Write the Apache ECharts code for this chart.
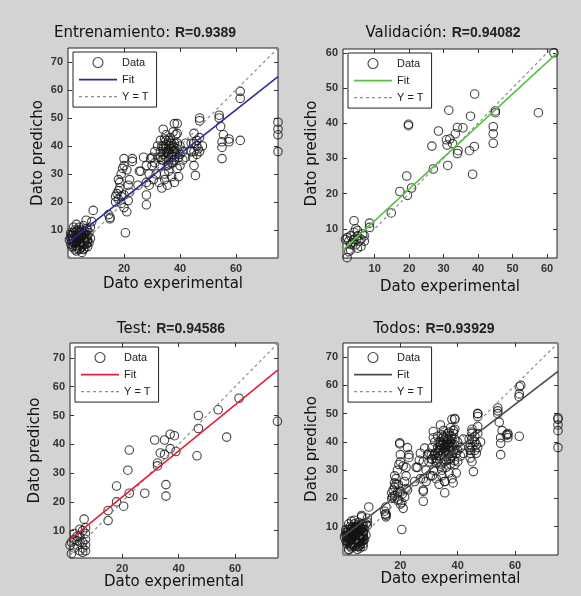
<!DOCTYPE html>
<html>
<head>
<meta charset="utf-8">
<script src="https://cdn.jsdelivr.net/npm/echarts@6/dist/echarts.min.js"></script>
<style>
  html, body { margin: 0; padding: 0; background: #d3d3d3; }
  #main { width: 581px; height: 596px; }
</style>
</head>
<body>
<div id="main"></div>
<script>
// datos: [target, salida]
var panelNames = ['Entrenamiento:', 'Validación:', 'Test:', 'Todos:']
var rValues = ['R=0.9389', 'R=0.94082', 'R=0.94586', 'R=0.93929']
var fitSlope = [0.79, 0.9, 0.8, 0.78]
var fitIntercept = [5.5, 3.3, 5.7, 6.5]
var xRange = [[0, 75], [0.8, 62.9], [1.5, 75.2], [0, 75]]
var yRange = [[0, 75], [1.7, 61.1], [0.5, 75.2], [0, 75]]
var xTicks = [[20, 40, 60], [10, 20, 30, 40, 50, 60], [20, 40, 60], [20, 40, 60]]
var yTicks = [
    [10, 20, 30, 40, 50, 60, 70],
    [10, 20, 30, 40, 50, 60],
    [10, 20, 30, 40, 50, 60, 70],
    [10, 20, 30, 40, 50, 60, 70]
]

var trainData = [
    [0.5, 6.5], [1, 5], [1, 7], [1, 9], [1.5, 6], [1.5, 8], [2, 4], [2, 5.5], [2, 7], [2, 9], [2, 11],
    [2.5, 3], [2.5, 6], [2.5, 8], [3, 2.5], [3, 4.5], [3, 6], [3, 7.5], [3, 9.5], [3, 12],
    [3.5, 5], [3.5, 7], [3.5, 10], [4, 3], [4, 4.5], [4, 6], [4, 8], [4, 11], [4.5, 5.5], [4.5, 7],
    [4.5, 9], [5, 2], [5, 4], [5, 6.5], [5, 8], [5, 10], [5.5, 5], [5.5, 7.5], [5.5, 11.5],
    [6, 3.5], [6, 6], [6, 8.5], [6, 9.5], [6.5, 5], [6.5, 7], [7, 4], [7, 6.5], [7, 8], [7, 10],
    [7.5, 5.5], [7.5, 9], [8, 7], [8, 11], [6.5, 13.5], [9, 17], [8.5, 13],
    [1.5, 4], [2.5, 10], [3.5, 8.5], [4, 9.5], [4.5, 3.5], [5, 5], [5.5, 9], [6, 7], [6.5, 8],
    [6.5, 10.5], [7, 5.5], [3, 5], [2, 6.5], [4, 5.5], [5, 7], [3.5, 3.5], [6, 5], [1, 8],
    [2.5, 4.5], [5.5, 3],
    [15, 14.5], [15, 14], [14.5, 15.5],
    [17, 20], [17, 22], [17.5, 23], [18, 21], [18, 24], [18, 28], [18.5, 25], [18.5, 27], [19, 22],
    [19, 19.5], [19, 30], [19.5, 32], [20, 33], [20, 35.5], [20, 18], [20, 22.5], [20.5, 9],
    [21, 16.5], [21.5, 20.5], [21, 31.5], [21.5, 26], [22, 23.5], [22, 28], [23, 35.5], [23, 34.5],
    [25, 26], [25.5, 31], [26, 31], [27, 36], [28, 27], [28, 22.5], [28, 19], [28, 33], [29, 30],
    [29, 26], [29.5, 35.5], [30, 33], [30, 36], [30.5, 28],
    [31, 34], [31, 38], [31.5, 30], [32, 36], [32, 40], [32.5, 27], [33, 33], [33, 38], [33, 42],
    [33.5, 35], [33.5, 25], [34, 46], [34, 40], [34, 37], [34.5, 30], [34.5, 28], [35, 36], [35, 39],
    [35, 42], [35, 44], [35.5, 33], [35.5, 26], [36, 38], [36, 40], [36, 35], [36, 31], [36.5, 41],
    [36.5, 43], [37, 37], [37, 39], [37, 29], [37, 36], [37.5, 40], [37.5, 34], [38, 48], [38, 27],
    [38, 38], [38, 41], [38, 36], [38.5, 44], [39, 48], [39, 44.5], [39, 32], [39, 39], [39.5, 29],
    [39.5, 36], [40, 37], [40, 40], [40, 33], [41, 38], [41, 35], [42, 36], [42, 41],
    [33, 36], [34, 39], [35, 38], [35, 40.5], [36, 37], [36, 42], [36.5, 39], [37, 41], [37.5, 38],
    [38, 39.5], [38, 35], [34, 35], [35.5, 37.5], [37, 34], [33.5, 40], [39, 41], [36, 33.5],
    [34.5, 42.5], [38.5, 37], [37.5, 45],
    [44, 38], [44, 41], [44.5, 36], [45, 44.5], [45, 41], [45, 38], [45, 33], [45.5, 29.5], [46, 40],
    [46, 37], [46, 42], [46.5, 39], [47, 50], [47, 49], [47, 38], [47, 43], [48, 40],
    [54, 51], [54, 50], [54.5, 47], [55.5, 44], [55, 41.5], [55, 39.5], [55, 35.5], [57.5, 42.5],
    [57.5, 41.5], [61.5, 59.5], [61.5, 57], [61.5, 42],
    [75, 48.5], [75, 46], [75, 44], [75, 38]
]

var validData = [
    [62, 60], [39, 48.3], [57.5, 43], [45, 43.5], [45, 43], [31.5, 43.7], [37.8, 42], [19.8, 39.7],
    [19.8, 39.3], [44.4, 39], [44.4, 37], [44.4, 34.3], [34, 38.8], [35.6, 38.7], [28.5, 37.8],
    [33.4, 37], [30.8, 35.3], [31.8, 35.5], [32.6, 34.2], [31, 33.8], [34.2, 32.2], [38.9, 33.4],
    [37.5, 32.2], [34, 31.4], [26.6, 33.5], [31.2, 28], [38.4, 25.5], [27, 27], [19.3, 25],
    [17.3, 20.6], [20.7, 21.6], [19.5, 19.5], [14.8, 14.5], [8.5, 11.6], [8.5, 10.4], [4, 12.3],
    [2, 7.5], [2.5, 6.5], [3, 8], [3.5, 6], [4, 9], [4, 7], [4.5, 5.5], [5, 8], [5.5, 6.5], [6, 7],
    [6, 5], [6.5, 8.5], [7, 6.5], [3, 4], [5, 4.5], [2, 1.8], [4.5, 10], [3, 5.5], [1.5, 7], [7, 8],
    [5, 9.5], [2.5, 3.5]
]

var testData = [
    [61.4, 56], [54, 52], [47, 50], [47, 45.5], [57, 42.5], [46.5, 36], [75, 48], [37, 43.5],
    [38.5, 43], [35, 41.5], [31.5, 41.5], [37, 38.5], [39, 37.5], [33.5, 37], [35, 36.5],
    [32.5, 33.5], [32.5, 32.5], [22.5, 38], [22, 31], [35.5, 26], [35.5, 22], [28, 23], [22.5, 23],
    [18, 25.5], [18, 20], [20.5, 18.5], [15, 17], [15, 13.5], [6.5, 14],
    [2, 6], [3, 7], [4, 5], [5, 8], [6, 6], [7, 9], [7, 7], [3, 4], [5, 3], [6, 2.5], [2, 2], [4, 8],
    [6, 10], [7, 5], [3, 9], [5, 6], [1.5, 5], [7, 3], [4, 6.5], [6, 4], [7, 11], [5, 10.5]
]

var allData = trainData.concat(validData, testData)

var chart = echarts.init(document.getElementById('main'))

var dataSets = [trainData, validData, testData, allData]
var fitColors = ['#2b2b98', '#55c43e', '#e0203a', '#4a4a4a']
var diagColor = '#8c8c8c'
var grids = [
    { left: 68, top: 48, width: 210, height: 210 },
    { left: 343, top: 49, width: 214, height: 209 },
    { left: 70, top: 343, width: 208, height: 215 },
    { left: 343, top: 343, width: 215, height: 212 }
]
var titlePos = [[145, 33], [443, 33], [171, 329], [434, 329]]
var xNameGap = [19, 22, 12, 15]
var yNameGap = [22, 23, 27, 23]

// iconos de leyenda: linea continua y linea punteada
var solidIcon = 'path://M0,0H38V1.6H0Z'
var dotIcon = 'path://M0,0H3V1.2H0ZM6,0H9V1.2H6ZM12,0H15V1.2H12ZM18,0H21V1.2H18ZM24,0H27V1.2H24ZM30,0H33V1.2H30ZM35,0H38V1.2H35Z'

var labelStyle = { fontFamily: 'Liberation Sans', fontSize: 11, fontWeight: 'bold', color: '#333' }
var nameStyle = { fontFamily: 'DejaVu Sans', fontSize: 15, color: '#111' }

var option = {
    backgroundColor: '#d3d3d3',
    animation: false,
    grid: [],
    xAxis: [],
    yAxis: [],
    legend: [],
    series: [],
    graphic: []
}

for (var i = 0; i < 4; i++) {
    var g = grids[i]
    option.grid.push({
        left: g.left, top: g.top, width: g.width, height: g.height,
        show: true, backgroundColor: '#fff', borderColor: '#222', borderWidth: 1
    })

    var tickIn = { inside: true, length: 4, lineStyle: { color: '#333' } }

    // eje inferior / izquierdo con etiquetas
    option.xAxis.push({
        gridIndex: i, type: 'value', position: 'bottom',
        min: xRange[i][0], max: xRange[i][1],
        name: 'Dato experimental', nameLocation: 'middle', nameGap: xNameGap[i], nameTextStyle: nameStyle,
        axisLine: { show: false, onZero: false },
        axisTick: Object.assign({ customValues: xTicks[i] }, tickIn),
        axisLabel: Object.assign({ customValues: xTicks[i], margin: 5 }, labelStyle),
        splitLine: { show: false }
    })
    // eje superior solo con marcas
    option.xAxis.push({
        gridIndex: i, type: 'value', position: 'top',
        min: xRange[i][0], max: xRange[i][1],
        axisLine: { show: false, onZero: false },
        axisTick: Object.assign({ customValues: xTicks[i] }, tickIn),
        axisLabel: { show: false },
        splitLine: { show: false }
    })
    option.yAxis.push({
        gridIndex: i, type: 'value', position: 'left',
        min: yRange[i][0], max: yRange[i][1],
        name: 'Dato predicho', nameLocation: 'middle', nameGap: yNameGap[i], nameTextStyle: nameStyle,
        axisLine: { show: false, onZero: false },
        axisTick: Object.assign({ customValues: yTicks[i] }, tickIn),
        axisLabel: Object.assign({ customValues: yTicks[i], margin: 5 }, labelStyle),
        splitLine: { show: false }
    })
    option.yAxis.push({
        gridIndex: i, type: 'value', position: 'right',
        min: yRange[i][0], max: yRange[i][1],
        axisLine: { show: false, onZero: false },
        axisTick: Object.assign({ customValues: yTicks[i] }, tickIn),
        axisLabel: { show: false },
        splitLine: { show: false }
    })

    var x0 = xRange[i][0], x1 = xRange[i][1]
    var lo = Math.max(xRange[i][0], yRange[i][0])
    var hi = Math.min(xRange[i][1], yRange[i][1])

    option.series.push({
        name: 'Data#' + i, type: 'scatter', xAxisIndex: 2 * i, yAxisIndex: 2 * i,
        data: dataSets[i], symbol: 'circle', symbolSize: 8.5,
        itemStyle: { color: 'rgba(0,0,0,0)', borderColor: '#151515', borderWidth: 1.1 }
    })
    option.series.push({
        name: 'Y = T#' + i, type: 'line', xAxisIndex: 2 * i, yAxisIndex: 2 * i,
        data: [[lo, lo], [hi, hi]], symbol: 'none',
        lineStyle: { color: diagColor, width: 1.2, type: [3, 3] }
    })
    option.series.push({
        name: 'Fit#' + i, type: 'line', xAxisIndex: 2 * i, yAxisIndex: 2 * i,
        data: [[x0, fitSlope[i] * x0 + fitIntercept[i]], [x1, fitSlope[i] * x1 + fitIntercept[i]]],
        symbol: 'none', lineStyle: { color: fitColors[i], width: 1.6 }
    })

    option.legend.push({
        orient: 'vertical', left: g.left + 5, top: g.top + 4,
        backgroundColor: '#fff', borderColor: '#222', borderWidth: 1,
        padding: [5, 8, 5, 6], itemGap: 6, itemWidth: 38, itemHeight: 10,
        selectedMode: false,
        textStyle: { fontFamily: 'Liberation Sans', fontSize: 11, color: '#222' },
        formatter: function (n) { return n.split('#')[0] },
        data: [
            { name: 'Data#' + i, icon: 'circle', itemStyle: { color: 'rgba(0,0,0,0)', borderColor: '#151515', borderWidth: 1.1 } },
            { name: 'Fit#' + i, icon: solidIcon, itemStyle: { color: fitColors[i], borderWidth: 0 } },
            { name: 'Y = T#' + i, icon: dotIcon, itemStyle: { color: diagColor, borderWidth: 0 } }
        ]
    })

    option.graphic.push({
        type: 'text', x: titlePos[i][0], y: titlePos[i][1],
        style: {
            text: '{a|' + panelNames[i] + ' }{b|' + rValues[i] + '}',
            align: 'center', verticalAlign: 'middle',
            rich: {
                a: { fontFamily: 'DejaVu Sans', fontSize: 15, fill: '#111', color: '#111' },
                b: { fontFamily: 'Liberation Sans', fontSize: 14, fontWeight: 'bold', fill: '#222', color: '#222' }
            }
        }
    })
}

chart.setOption(option)
</script>
</body>
</html>
